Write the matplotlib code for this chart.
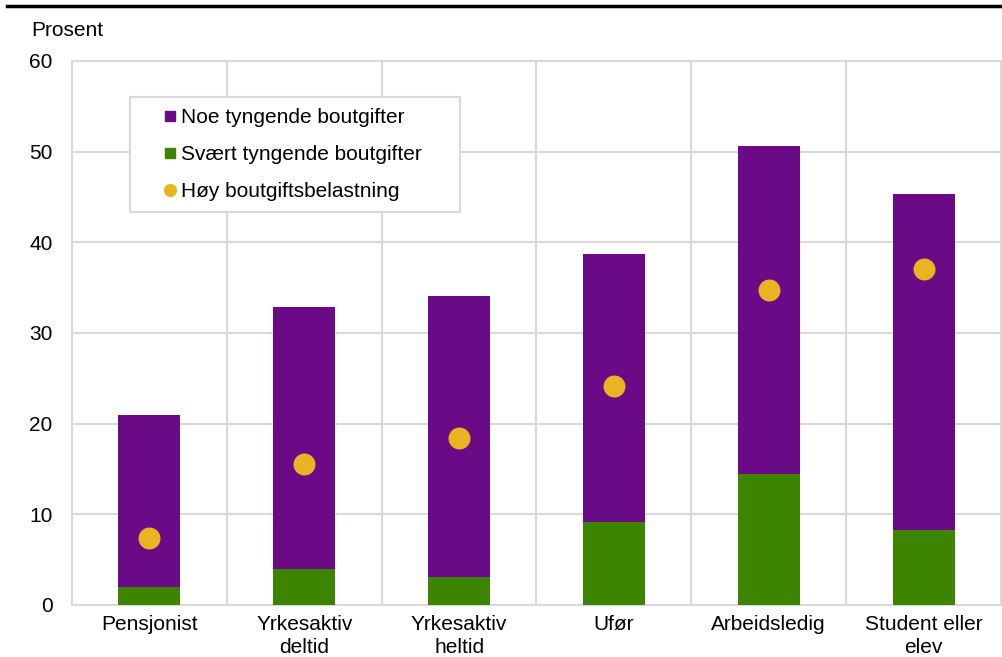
import matplotlib
matplotlib.use("Agg")
import matplotlib.pyplot as plt
from matplotlib.lines import Line2D

plt.rcParams['font.family'] = ['Liberation Sans', 'DejaVu Sans']

# data
categories = ["Pensjonist", "Yrkesaktiv\ndeltid", "Yrkesaktiv\nheltid", "Ufør",
              "Arbeidsledig", "Student eller\nelev"]
svaert = [2.0, 4.0, 3.1, 9.2, 14.5, 8.3]
noe = [19.0, 28.9, 31.0, 29.5, 36.1, 37.0]
hoy = [7.4, 15.6, 18.4, 24.2, 34.7, 37.1]

purple = "#6a0a87"
green = "#3d8500"
yellow = "#ebb322"
grid = "#d9d9d9"

fig = plt.figure(figsize=(10.02, 6.57), dpi=100)
ax = fig.add_axes([72/1002, 1 - 605/657, 929/1002, 544/657])

x = range(len(categories))
ax.bar(x, svaert, width=0.4, color=green, zorder=3)
ax.bar(x, noe, width=0.4, bottom=svaert, color=purple, zorder=3)
ax.scatter(x, hoy, s=250, color=yellow, zorder=4, linewidths=0)

ax.set_xlim(-0.5, 5.5)
ax.set_ylim(0, 60)
ax.set_yticks(range(0, 61, 10))
ax.set_xticks(list(x))
ax.set_xticklabels(categories, linespacing=1.3)
ax.set_xticks([i + 0.5 for i in range(5)], minor=True)
ax.tick_params(axis='both', which='both', length=0, labelsize=15)
ax.tick_params(axis='y', pad=14)
ax.tick_params(axis='x', pad=7)
ax.grid(axis='y', color=grid, linewidth=1.5, zorder=0)
ax.grid(axis='x', which='minor', color=grid, linewidth=1.5, zorder=0)
ax.grid(axis='x', which='major', visible=False)
for s in ax.spines.values():
    s.set_color(grid)
    s.set_linewidth(1.5)

handles = [
    Line2D([], [], marker='s', linestyle='none', color=purple, markersize=7.5),
    Line2D([], [], marker='s', linestyle='none', color=green, markersize=7.5),
    Line2D([], [], marker='o', linestyle='none', color=yellow, markersize=8.5),
]
labels = ["Noe tyngende boutgifter", "Svært tyngende boutgifter", "Høy boutgiftsbelastning"]
leg = ax.legend(handles, labels, loc='upper left',
                bbox_to_anchor=(58/929, 508/544 - 0.01, 330/929, 0.01), mode='expand',
                borderaxespad=0, fontsize=15, fancybox=False, framealpha=1,
                edgecolor=grid, handletextpad=-0.84, labelspacing=0.85,
                handlelength=2.74, borderpad=0.55)
leg.get_frame().set_linewidth(1.5)

fig.text(31/1002, 1 - 31/657, "Prosent", fontsize=15, va='center', ha='left')
fig.add_artist(Line2D([7/1002, 1], [1 - 6/657, 1 - 6/657], color='black', linewidth=2.5))

fig.savefig("out.png", dpi=100)
